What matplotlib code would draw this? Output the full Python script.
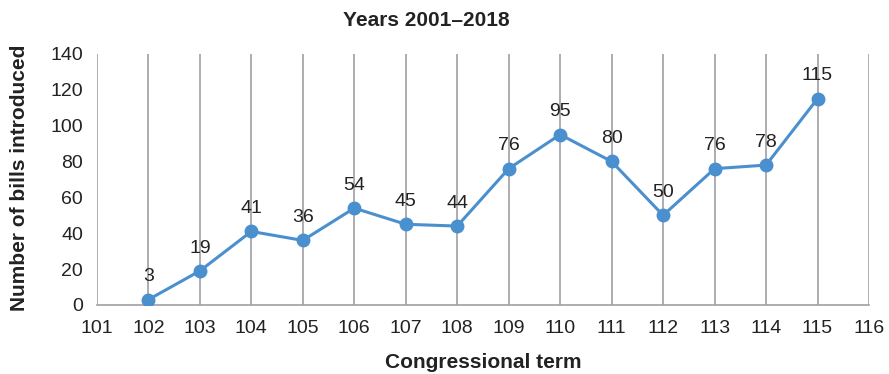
import matplotlib.pyplot as plt

# bills introduced per congressional term, 2001-2018
terms = [102, 103, 104, 105, 106, 107, 108, 109, 110, 111, 112, 113, 114, 115]
bills = [3, 19, 41, 36, 54, 45, 44, 76, 95, 80, 50, 76, 78, 115]
xticks = list(range(101, 117))
yticks = list(range(0, 141, 20))

plt.rcParams['font.family'] = ['Liberation Sans', 'DejaVu Sans']

fig = plt.figure(figsize=(8.89, 3.74), dpi=100)
ax = fig.add_axes([0.109, 0.1845, 0.8685, 0.6715])

blue = '#4a8fce'
ax.plot(terms, bills, color=blue, lw=2.2, marker='o', ms=9, zorder=3)
for x, y in zip(terms, bills):
    ax.text(x, y + 8, str(y), ha='center', va='bottom', fontsize=14, color='#222222')

ax.set_xlim(101, 116)
ax.set_ylim(0, 140)
ax.set_xticks(xticks)
ax.set_yticks(yticks)
ax.tick_params(length=0, labelsize=14, colors='#222222')
ax.tick_params(axis='x', pad=11)
ax.tick_params(axis='y', pad=10)
ax.grid(axis='x', color='#a0a0a4', lw=1.2)
for s in ['top', 'left', 'right']:
    ax.spines[s].set_visible(False)
ax.spines['bottom'].set_color('#a0a0a4')
ax.spines['bottom'].set_linewidth(1.2)

fig.text(0.479, 0.946, 'Years 2001\u20132018', fontsize=15, fontweight='bold',
         ha='center', va='center', color='#222222')
ax.set_xlabel('Congressional term', fontsize=15, fontweight='bold', color='#222222')
ax.set_ylabel('Number of bills introduced', fontsize=15, fontweight='bold', color='#222222')
ax.xaxis.set_label_coords(0.5, -0.19)
ax.yaxis.set_label_coords(-0.088, 0.505)

fig.savefig('out.png', dpi=100)
